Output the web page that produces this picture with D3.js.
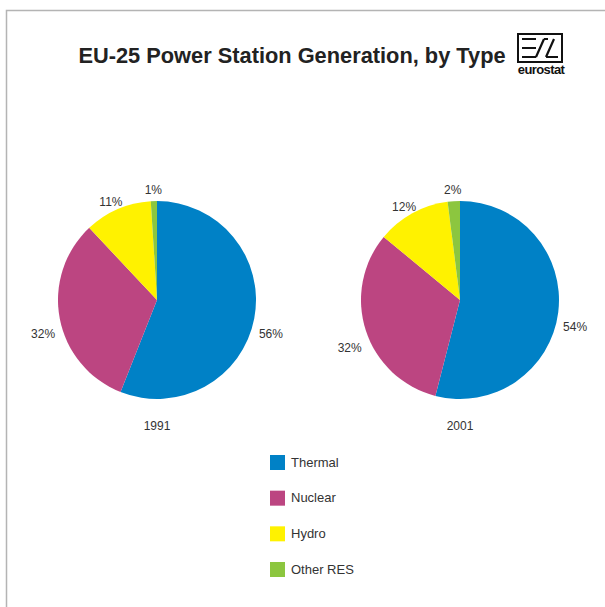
<!DOCTYPE html>
<html>
<head>
<meta charset="utf-8">
<script src="https://cdn.jsdelivr.net/npm/d3@7"></script>
<style>
  body { margin: 0; background: #fff; }
  svg { display: block; font-family: "Liberation Sans", Arial, sans-serif; }
</style>
</head>
<body>
<svg width="605" height="607"></svg>
<script>
// chart data
var types = ["Thermal", "Nuclear", "Hydro", "Other RES"];
var colors = ["#0081c6", "#bc4581", "#fff200", "#8cc63f"];
var years = ["1991", "2001"];
var share1991 = [56, 32, 11, 1];
var share2001 = [54, 32, 12, 2];

var svg = d3.select("svg");

// frame (top + left only)
svg.append("path")
    .attr("d", "M6.5,607 L6.5,10.5 L605,10.5")
    .attr("fill", "none")
    .attr("stroke", "#b4b4b4")
    .attr("stroke-width", 1.5);

svg.append("text")
    .attr("x", 292)
    .attr("y", 63)
    .attr("text-anchor", "middle")
    .attr("font-size", 21.8)
    .attr("font-weight", "bold")
    .attr("fill", "#222")
    .text("EU-25 Power Station Generation, by Type");

// eurostat logo
var logo = svg.append("g").attr("transform", "translate(518,34)");
logo.append("rect").attr("width", 44).attr("height", 28)
    .attr("fill", "none").attr("stroke", "#111").attr("stroke-width", 2);
logo.append("path")
    .attr("d", "M4,5 H18 M4,14 H18 M4,23 H18 M18,23 L26,5 M26,5 H30 M28,23 L36,5 M28,23 H40")
    .attr("fill", "none").attr("stroke", "#111").attr("stroke-width", 2.2);
logo.append("text")
    .attr("x", 23).attr("y", 40)
    .attr("text-anchor", "middle")
    .attr("font-size", 13)
    .attr("font-weight", "bold")
    .attr("letter-spacing", -0.6)
    .attr("fill", "#111")
    .text("eurostat");

var radius = 99;
var pie = d3.pie().sort(null).value(function(d) { return d; });
var arc = d3.arc().innerRadius(0).outerRadius(radius);
var labelArc = d3.arc().innerRadius(116).outerRadius(116);

var x = d3.scalePoint().domain(years).range([157, 460]);
var cy = 300;

[share1991, share2001].forEach(function(vals, i) {
  var g = svg.append("g")
      .attr("transform", "translate(" + x(years[i]) + "," + cy + ")");

  var slices = pie(vals);

  g.selectAll("path")
    .data(slices)
    .enter().append("path")
      .attr("d", arc)
      .attr("fill", function(d, j) { return colors[j]; });

  g.selectAll(".lbl")
    .data(slices)
    .enter().append("text")
      .attr("class", "lbl")
      .attr("transform", function(d) {
        var c = labelArc.centroid(d);
        var mid = (d.startAngle + d.endAngle) / 2;
        var extra = Math.abs(Math.sin(mid)) * 7;
        return "translate(" + c[0] + "," + (c[1] + extra) + ")";
      })
      .attr("dy", "0.8em")
      .attr("text-anchor", "middle")
      .attr("font-size", 12)
      .attr("fill", "#333")
      .text(function(d) { return d.data + "%"; });

  g.append("text")
      .attr("y", 130)
      .attr("text-anchor", "middle")
      .attr("font-size", 12)
      .attr("fill", "#333")
      .text(years[i]);
});

// legend
var ly = d3.scalePoint().domain(types).range([462, 569]);
var legend = svg.selectAll(".leg")
    .data(types)
    .enter().append("g")
      .attr("class", "leg")
      .attr("transform", function(d) { return "translate(270," + ly(d) + ")"; });

legend.append("rect")
    .attr("y", -7)
    .attr("width", 15)
    .attr("height", 15)
    .attr("fill", function(d, j) { return colors[j]; });

legend.append("text")
    .attr("x", 21)
    .attr("dy", "0.35em")
    .attr("font-size", 13)
    .attr("fill", "#333")
    .text(function(d) { return d; });
</script>
</body>
</html>
